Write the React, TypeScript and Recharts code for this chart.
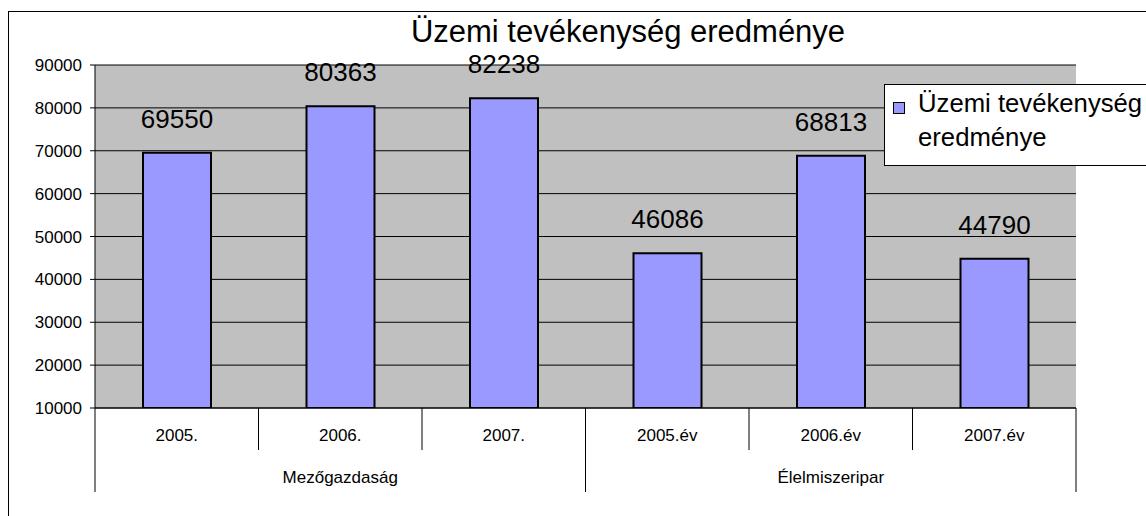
import React from 'react';
import { BarChart, Bar, XAxis, YAxis, CartesianGrid, LabelList } from 'recharts';

// Categories (lower level = year, upper level = sector)
const years = ['2005.', '2006.', '2007.', '2005.év', '2006.év', '2007.év'];
const sectors = ['Mezőgazdaság', 'Mezőgazdaság', 'Mezőgazdaság', 'Élelmiszeripar', 'Élelmiszeripar', 'Élelmiszeripar'];
const results = [69550, 80363, 82238, 46086, 68813, 44790];
const yTicks = [10000, 20000, 30000, 40000, 50000, 60000, 70000, 80000, 90000];

const seriesName = 'Üzemi tevékenység eredménye';
const FONT = '"Liberation Sans", Arial, sans-serif';

const data = years.map((year, i) => ({ year, sector: sectors[i], value: results[i] }));

// two-row category axis: year labels, separator lines and sector labels
function TwoLevelTick(props: any) {
  const { x, y, payload, index } = props;
  const half = payload?.offset || 81.7;
  const first = index === 0 || sectors[index] !== sectors[index - 1];
  const last = index === years.length - 1;
  const groupIdx = sectors.map((s, i) => i).filter(i => sectors[i] === sectors[index]);
  const midOfGroup = groupIdx[Math.floor(groupIdx.length / 2)] === index;
  return (
    <g>
      <line x1={x - half} x2={x - half} y1={y} y2={y + (first ? 84 : 42)} stroke="#000" />
      {last && <line x1={x + half} x2={x + half} y1={y} y2={y + 84} stroke="#000" />}
      <text x={x} y={y + 33} textAnchor="middle" fontSize={17} fill="#000" fontFamily={FONT}>
        {payload.value}
      </text>
      {midOfGroup && (
        <text x={x} y={y + 75} textAnchor="middle" fontSize={17} fill="#000" fontFamily={FONT}>
          {sectors[index]}
        </text>
      )}
    </g>
  );
}

export default function App() {
  return (
    <div style={{ position: 'fixed', left: 0, top: 0, width: 1146, height: 516, overflow: 'hidden', background: '#fff', fontFamily: FONT }}>
      {/* outer chart frame, runs off the right and bottom edges */}
      <div style={{ position: 'absolute', left: 8, top: 11, width: 1200, height: 600, border: '1px solid #000' }} />

      <div style={{ position: 'absolute', left: 0, top: 0 }}>
        <BarChart width={1146} height={516} data={data} margin={{ top: 65, right: 70, bottom: 24, left: 8 }}>
          <CartesianGrid vertical={false} stroke="#000" fill="#c0c0c0" fillOpacity={1} />
          <XAxis
            dataKey="year"
            height={84}
            interval={0}
            tickLine={false}
            tickSize={0}
            tickMargin={0}
            axisLine={{ stroke: '#000' }}
            tick={<TwoLevelTick />}
          />
          <XAxis xAxisId="top" dataKey="year" orientation="top" height={0} tick={false} tickLine={false} axisLine={{ stroke: '#808080' }} />
          <YAxis
            width={87}
            domain={[10000, 90000]}
            ticks={yTicks}
            allowDataOverflow
            interval={0}
            tickSize={5}
            tickMargin={8}
            tickLine={{ stroke: '#000' }}
            axisLine={{ stroke: '#000' }}
            tick={{ fill: '#000', fontSize: 17, fontFamily: FONT }}
          />
          <YAxis yAxisId="right" orientation="right" width={0} domain={[10000, 90000]} tick={false} tickLine={false} axisLine={{ stroke: '#808080' }} />
          <Bar dataKey="value" name={seriesName} fill="#9999ff" stroke="#000" strokeWidth={2} barSize={68} isAnimationActive={false}>
            <LabelList dataKey="value" position="top" offset={25} fill="#000" fontSize={26} fontFamily={FONT} />
          </Bar>
        </BarChart>
      </div>

      {/* title */}
      <div style={{ position: 'absolute', left: 0, width: 1256, top: 14, textAlign: 'center', fontSize: 31, lineHeight: '36px', color: '#000', whiteSpace: 'nowrap' }}>
        {seriesName}
      </div>

      {/* legend box */}
      <div style={{ position: 'absolute', left: 884, top: 84, width: 300, height: 80, background: '#fff', border: '1px solid #000' }}>
        <div style={{ position: 'absolute', left: 8, top: 17, width: 10, height: 10, background: '#9999ff', border: '1px solid #000' }} />
        <div style={{ position: 'absolute', left: 33, top: 1, fontSize: 25.7, lineHeight: '34px', color: '#000', whiteSpace: 'nowrap' }}>
          Üzemi tevékenység<br />eredménye
        </div>
      </div>
    </div>
  );
}
